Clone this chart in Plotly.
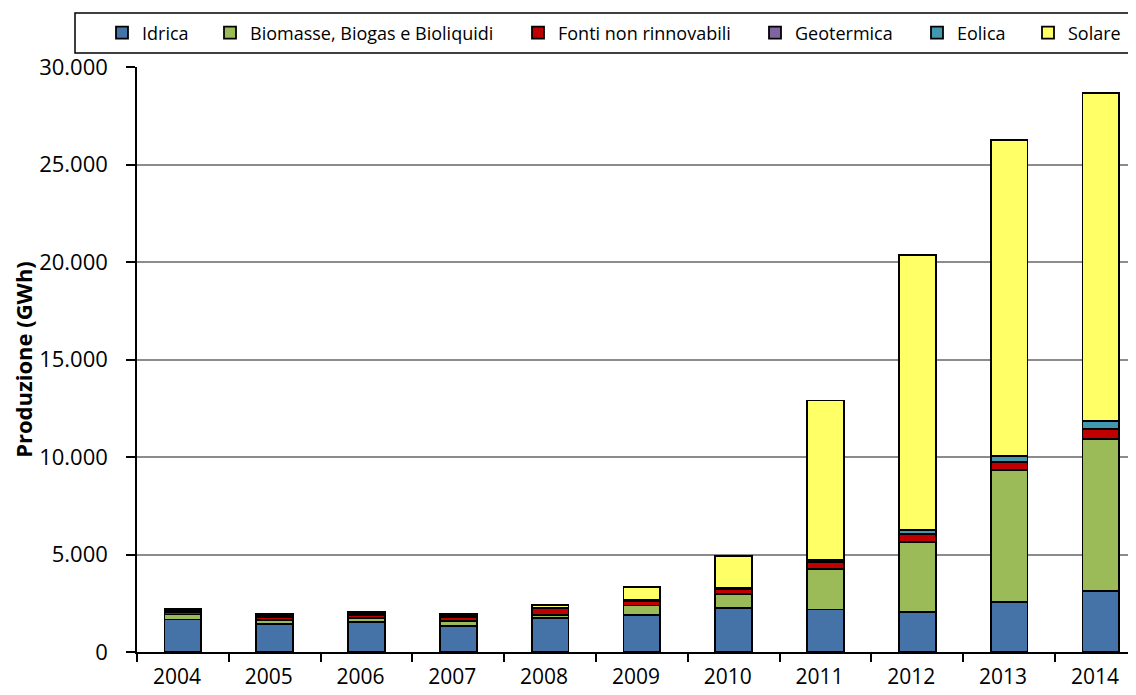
import plotly.graph_objects as go

years = ["2004", "2005", "2006", "2007", "2008", "2009", "2010", "2011", "2012", "2013", "2014"]
idrica = [1670, 1440, 1520, 1340, 1760, 1910, 2240, 2180, 2070, 2580, 3140]
biomasse = [250, 200, 220, 230, 120, 480, 720, 2090, 3560, 6740, 7800]
fonti_non_rinn = [150, 170, 160, 240, 360, 240, 250, 340, 430, 410, 480]
geotermica = [20, 20, 20, 20, 10, 10, 10, 10, 10, 10, 10]
eolica = [50, 60, 60, 60, 30, 40, 60, 100, 180, 330, 410]
solare = [50, 60, 60, 60, 150, 640, 1660, 8180, 14120, 16190, 16840]

series_names = ["Idrica", "Biomasse, Biogas e Bioliquidi", "Fonti non rinnovabili",
                "Geotermica", "Eolica", "Solare"]
series_values = [idrica, biomasse, fonti_non_rinn, geotermica, eolica, solare]
series_colors = ["#4572A7", "#9BBB59", "#C00000", "#8064A2", "#4198AF", "#FFFF66"]

# page geometry (browser body has an 8px margin)
OFF = 8
W, H = 1128, 687
L, T, B = 129, 59, 43
plot_w = W - L
plot_h = H - T - B
cat_w = 91.8

def px_x(page):
    return (page - OFF - L) / plot_w

def px_y(page):
    return (OFF + H - B - page) / plot_h

# legend swatch left positions in the reference (page pixels)
legend_swatch_x = [119, 227, 535, 772, 934, 1045]

fig = go.Figure()
legend_layouts = {}
for i, (name, vals, col) in enumerate(zip(series_names, series_values, series_colors)):
    lkey = "legend" if i == 0 else f"legend{i+1}"
    fig.add_trace(go.Bar(
        x=years, y=vals, name=name, legend=lkey,
        marker=dict(color=col, line=dict(color="black", width=1.8)),
    ))
    legend_layouts[lkey] = dict(
        orientation="h", x=px_x(legend_swatch_x[i] - 17), xanchor="left",
        y=px_y(33), yanchor="middle",
        font=dict(family="Open Sans", size=18, color="black"),
        itemwidth=30, bgcolor="rgba(0,0,0,0)", borderwidth=0,
    )

fig.add_shape(type="rect", xref="paper", yref="paper",
              x0=px_x(75), x1=px_x(1150), y0=px_y(53), y1=px_y(13),
              line=dict(color="black", width=1.5), fillcolor="rgba(0,0,0,0)")

fig.update_layout(
    width=W, height=H,
    margin=dict(l=L, r=0, t=T, b=B, autoexpand=False),
    barmode="stack",
    bargap=0.6,
    plot_bgcolor="white", paper_bgcolor="white",
    separators=",.",
    font=dict(family="Open Sans", size=18, color="black"),
    showlegend=True,
    xaxis=dict(
        type="category",
        range=[-0.5, -0.5 + plot_w / cat_w],
        showline=True, linecolor="black", linewidth=1.5,
        ticks="outside", tickson="boundaries", ticklen=8, tickcolor="black", tickwidth=1.5,
        showgrid=False, ticklabelshift=-6, ticklabelstandoff=5,
        tickfont=dict(family="Open Sans", size=21),
    ),
    yaxis=dict(
        range=[0, 30000], dtick=5000, tickformat=",d",
        showline=True, linecolor="black", linewidth=1.5,
        ticks="outside", ticklen=9, tickcolor="black", tickwidth=1.5,
        ticklabelstandoff=14,
        showgrid=True, gridcolor="#8C8C8C", gridwidth=1.5,
        zeroline=False,
        tickfont=dict(family="Open Sans", size=22),
        title=dict(text="<b>Produzione (GWh)</b>", standoff=8,
                   font=dict(family="Open Sans", size=22)),
    ),
    **legend_layouts,
)

fig.write_html("out.html")
